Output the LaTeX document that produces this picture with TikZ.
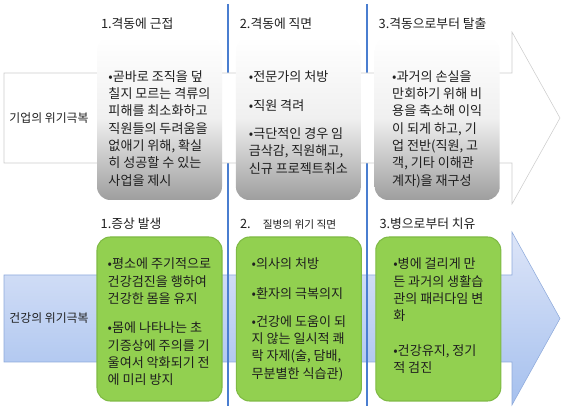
\documentclass[tikz,border=0pt]{standalone}
\usepackage{fontspec}
\newfontfamily\krfont{Noto Sans CJK KR}
\usetikzlibrary{positioning}

\definecolor{shaftblue}{HTML}{DDE5F8}
\definecolor{deepblue}{HTML}{A5C0EE}
\definecolor{arrowline}{HTML}{8EAADB}
\definecolor{sepblue}{HTML}{4A7ED0}
\definecolor{leafgreen}{HTML}{92D050}
\definecolor{leafline}{HTML}{7FBA45}
\definecolor{textgray}{HTML}{1E1E1E}

\tikzset{
    graybox/.style={rounded corners=10pt, minimum width=93.75pt, minimum height=122.25pt, inner sep=0pt,
        top color=white, bottom color=black!38, middle color=black!6},
    greenbox/.style={rounded corners=10pt, minimum width=93.75pt, minimum height=123pt, inner sep=0pt,
        fill=leafgreen, draw=leafline, line width=0.8pt},
    steptitle/.style={inner sep=0pt, text=textgray, font=\krfont\fontsize{9.6}{12}\selectfont},
    bodytext/.style={inner sep=0pt, align=left, text=textgray, font=\krfont\fontsize{9.8}{13}\selectfont},
    rowlabel/.style={inner sep=0pt, text=textgray, font=\krfont\fontsize{8.9}{10}\selectfont},
    sepline/.style={draw=sepblue, line width=1.1pt}
}

\begin{document}
\begin{tikzpicture}[x=0.75pt, y=-0.75pt]
    \useasboundingbox (0,0) rectangle (562,410);

    % health arrow (lower row)
    \draw [draw=arrowline, top color=shaftblue, bottom color=deepblue] (4,275) -- (512,275) -- (512,232) -- (560,318.5) -- (512,405) -- (512,362) -- (4,362) -- cycle;

    % stage separators
    \draw [sepline] (228,4) -- (228,406);
    \draw [sepline] (367,4) -- (367,406);

    % company arrow (upper row)
    \draw [draw=black!20, fill=white] (4,73) -- (512,73) -- (512,32) -- (560,118) -- (512,204) -- (512,163) -- (4,163) -- cycle;

    \node [rowlabel] (corp) at (49,118) {기업의 위기극복};
    \node [rowlabel] (health) at (49,318.5) {건강의 위기극복};

    % upper row
    \node [graybox] (shock1) at (159.5,118.5) {};
    \node [graybox] (shock2) [right=10pt of shock1] {};
    \node [graybox] (shock3) [right=10pt of shock2] {};

    \node [steptitle] (shocktitle1) [above right=5pt and 3pt of shock1.north west] {1.격동에 근접};
    \node [steptitle] (shocktitle2) [above right=5pt and 3pt of shock2.north west] {2.격동에 직면};
    \node [steptitle] (shocktitle3) [above right=5pt and 3pt of shock3.north west] {3.격동으로부터 탈출};

    \node [bodytext] (shockbody1) [below=25pt of shock1.north] {•곧바로 조직을 덮\\칠지 모르는 격류의\\피해를 최소화하고\\직원들의 두려움을\\없애기 위해, 확실\\히 성공할 수 있는\\사업을 제시};
    \node [bodytext] (shockbody2) [below=25pt of shock2.north] {•전문가의 처방\\[9pt]•직원 격려\\[8pt]•극단적인 경우 임\\금삭감, 직원해고,\\신규 프로젝트취소};
    \node [bodytext] (shockbody3) [below=25pt of shock3.north] {•과거의 손실을\\만회하기 위해 비\\용을 축소해 이익\\이 되게 하고, 기\\업 전반(직원, 고\\객, 기타 이해관\\계자)을 재구성};

    % lower row
    \node [greenbox] (ill1) at (159.5,319) {};
    \node [greenbox] (ill2) [right=10pt of ill1] {};
    \node [greenbox] (ill3) [right=10pt of ill2] {};

    \node [steptitle] (illtitle1) [above right=5pt and 3pt of ill1.north west] {1.증상 발생};
    \node [steptitle] (illtitle2) [above right=5pt and 3pt of ill2.north west] {2.\hspace{9pt}{\fontsize{8}{10}\selectfont 질병의 위기 직면}};
    \node [steptitle] (illtitle3) [above right=5pt and 3pt of ill3.north west] {3.병으로부터 치유};

    \node [bodytext] (illbody1) [below=16pt of ill1.north] {•평소에 주기적으로\\건강검진을 행하여\\건강한 몸을 유지\\[9pt]•몸에 나타나는 초\\기증상에 주의를 기\\울여서 악화되기 전\\에 미리 방지};
    \node [bodytext] (illbody2) [below=16pt of ill2.north] {•의사의 처방\\[9pt]•환자의 극복의지\\[8pt]•건강에 도움이 되\\지 않는 일시적 쾌\\락 자제(술, 담배,\\무분별한 식습관)};
    \node [bodytext] (illbody3) [below=16pt of ill3.north] {•병에 걸리게 만\\든 과거의 생활습\\관의 패러다임 변\\화\\[13pt]•건강유지, 정기\\적 검진};
\end{tikzpicture}
\end{document}
